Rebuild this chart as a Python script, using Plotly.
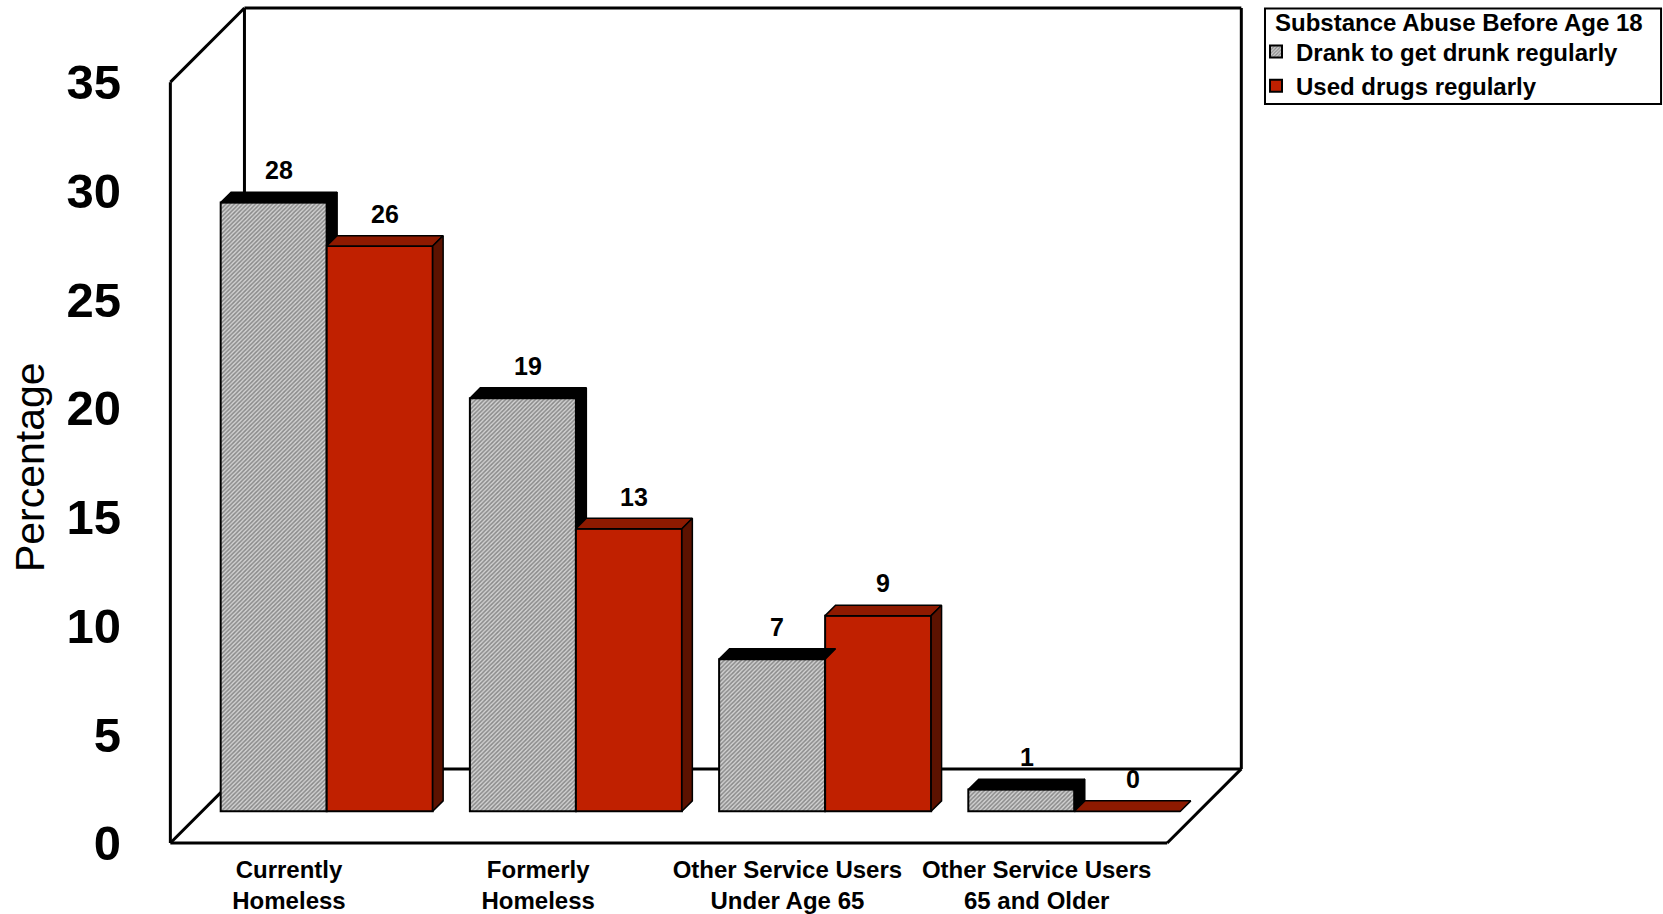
import plotly.graph_objects as go

# ---- data -------------------------------------------------------------
categories = [
    "Currently<br>Homeless",
    "Formerly<br>Homeless",
    "Other Service Users<br>Under Age 65",
    "Other Service Users<br>65 and Older",
]
drank = [28, 19, 7, 1]
drugs = [26, 13, 9, 0]
series_names = ["Drank to get drunk regularly", "Used drugs regularly"]
legend_title = "Substance Abuse Before Age 18"
y_ticks = [0, 5, 10, 15, 20, 25, 30, 35]
y_title = "Percentage"

# ---- styling / pseudo-3D geometry --------------------------------------
FONT = "Liberation Sans, Arial, sans-serif"
BAR_W = 0.4254          # width of one bar (category spacing = 1)
DEPTH_SX = 0.0872       # x shift per unit of depth (depth is measured in y units)
FRONT = -1.46           # depth of the front edge of the floor
BACK = 1.95             # depth of the back wall
BAR_D = 0.48            # depth of each bar
BOX_X0, BOX_X1 = -0.5, len(categories) - 0.5
WALL_H = y_ticks[-1]
LABEL_SHIFT = -0.024    # nudge for the category labels

GRAY_BG, GRAY_FG = "#d2d2d2", "#404040"
RED_FRONT, RED_TOP, RED_SIDE = "#c02000", "#8e1a00", "#5c1200"
EDGE = "black"


def proj(x, v, depth):
    """Project a point at a given depth onto the chart plane."""
    return x + depth * DEPTH_SX, v + depth


n = len(categories)
gray_x = [i - BAR_W / 2 for i in range(n)]
red_x = [i + BAR_W / 2 for i in range(n)]

fig = go.Figure()

# front faces
fig.add_trace(go.Bar(
    x=gray_x, y=drank, width=BAR_W, name=series_names[0],
    marker=dict(color=GRAY_BG, line=dict(color=EDGE, width=2),
                pattern=dict(shape="/", fgcolor=GRAY_FG, bgcolor=GRAY_BG,
                             size=3, solidity=0.5)),
    hoverinfo="skip",
))
fig.add_trace(go.Bar(
    x=red_x, y=drugs, width=BAR_W, name=series_names[1],
    marker=dict(color=RED_FRONT, line=dict(color=EDGE, width=2)),
    hoverinfo="skip",
))


def poly(pts, fill):
    xs = [p[0] for p in pts] + [pts[0][0]]
    ys = [p[1] for p in pts] + [pts[0][1]]
    fig.add_trace(go.Scatter(
        x=xs, y=ys, mode="lines", fill="toself", fillcolor=fill,
        line=dict(color=EDGE, width=1.5), showlegend=False, hoverinfo="skip",
    ))


# top and side faces, back-to-front within each group
for i in range(n):
    g, r = drank[i], drugs[i]
    gx0, gx1 = gray_x[i] - BAR_W / 2, gray_x[i] + BAR_W / 2
    rx0, rx1 = red_x[i] - BAR_W / 2, red_x[i] + BAR_W / 2
    # gray bar top
    poly([(gx0, g), (gx1, g), proj(gx1, g, BAR_D), proj(gx0, g, BAR_D)], "black")
    # gray bar side: only the part rising above the neighbouring red bar
    if g > r:
        poly([(gx1, r), (gx1, g), proj(gx1, g, BAR_D), proj(gx1, r, BAR_D)], "black")
    # red bar top and side
    poly([(rx0, r), (rx1, r), proj(rx1, r, BAR_D), proj(rx0, r, BAR_D)], RED_TOP)
    if r > 0:
        poly([(rx1, 0), (rx1, r), proj(rx1, r, BAR_D), proj(rx1, 0, BAR_D)], RED_SIDE)

# value labels above each bar
annotations = []
for xs, vals in ((gray_x, drank), (red_x, drugs)):
    for x, v in zip(xs, vals):
        lx, ly = proj(x, v, BAR_D / 2)
        annotations.append(dict(
            x=lx, y=v + BAR_D + 1.0, text=str(v), showarrow=False,
            xanchor="center", yanchor="middle",
            font=dict(family=FONT, size=25, color="black", weight="bold"),
        ))

annotations.append(dict(
    xref="paper", yref="paper", x=-0.108, y=0.4506, text=y_title,
    textangle=-90, showarrow=False, xanchor="center", yanchor="middle",
    font=dict(family=FONT, size=41, color="black"),
))

# legend heading
annotations.append(dict(
    xref="paper", yref="paper", x=1.0118, y=0.974, text=legend_title,
    showarrow=False, xanchor="left", yanchor="middle",
    font=dict(family=FONT, size=24, color="black", weight="bold"),
))

# box frame: back wall, left wall and floor
fl_b = proj(BOX_X0, 0, FRONT)
fl_t = proj(BOX_X0, WALL_H, FRONT)
fr_b = proj(BOX_X1, 0, FRONT)
bl_b = proj(BOX_X0, 0, BACK)
bl_t = proj(BOX_X0, WALL_H, BACK)
br_b = proj(BOX_X1, 0, BACK)
br_t = proj(BOX_X1, WALL_H, BACK)
edges = [
    (bl_b, bl_t), (bl_t, br_t), (br_t, br_b), (bl_b, br_b),
    (fl_b, fl_t), (fl_t, bl_t), (fl_b, bl_b),
    (fl_b, fr_b), (fr_b, br_b),
]
shapes = [dict(type="line", xref="x", yref="y", x0=a[0], y0=a[1], x1=b[0], y1=b[1],
               line=dict(color="black", width=3), layer="below") for a, b in edges]

# legend border
shapes.append(dict(type="rect", xref="paper", yref="paper",
                   x0=1.0045, x1=1.3613, y0=0.8776, y1=0.99,
                   line=dict(color="black", width=2), fillcolor="rgba(0,0,0,0)"))

fig.update_layout(
    width=1663, height=914,
    margin=dict(l=150, r=403, t=0, b=64),
    paper_bgcolor="white", plot_bgcolor="white",
    barmode="overlay",
    font=dict(family=FONT, color="black"),
    shapes=shapes, annotations=annotations,
    showlegend=True,
    legend=dict(
        x=0.9964, y=0.9655, xanchor="left", yanchor="top",
        bgcolor="rgba(0,0,0,0)", borderwidth=0,
        font=dict(family=FONT, size=24, color="black", weight="bold"),
        tracegroupgap=0,
    ),
    xaxis=dict(
        range=[-0.709, 3.745], showgrid=False, zeroline=False, showline=False,
        tickvals=[i + FRONT * DEPTH_SX + LABEL_SHIFT for i in range(n)],
        ticktext=categories,
        tickfont=dict(family=FONT, size=24, weight="bold"), ticks="",
        ticklabelstandoff=3, fixedrange=True,
    ),
    yaxis=dict(
        range=[-1.78, 37.32], showgrid=False, zeroline=False, showline=False,
        tickvals=[t + FRONT for t in y_ticks], ticktext=[str(t) for t in y_ticks],
        tickfont=dict(family=FONT, size=49, weight="bold"), ticks="",
        ticklabelstandoff=28, fixedrange=True,
    ),
)

fig.write_html("out.html")
